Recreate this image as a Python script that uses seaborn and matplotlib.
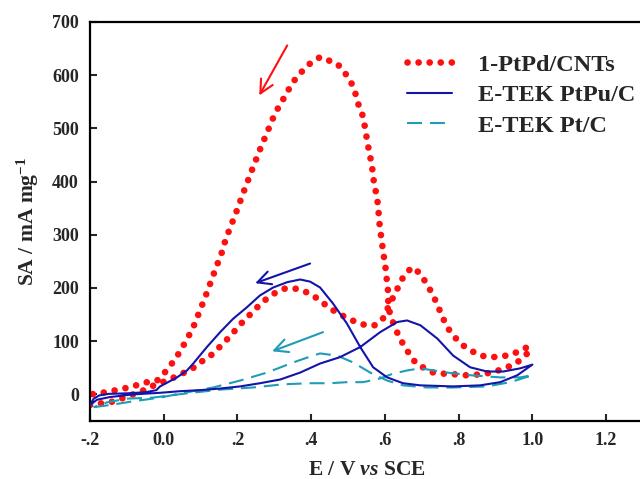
import numpy as np
import pandas as pd
import matplotlib
matplotlib.use("Agg")
import matplotlib.pyplot as plt
import seaborn as sns

# ---------------- data ----------------
pd_cnt_E = [-0.2, -0.173, -0.146, -0.119, -0.091, -0.064, -0.043, -0.024, 0.017, 0.039,
            0.063, 0.088, 0.107, 0.131, 0.15, 0.174, 0.196, 0.215, 0.24, 0.261,
            0.283, 0.305, 0.329, 0.356, 0.381, 0.405, 0.43, 0.451, 0.473, 0.5,
            0.524, 0.549, 0.573, 0.595, 0.609, 0.622, 0.636, 0.652, 0.674, 0.696,
            0.712, 0.728, 0.742, 0.755, 0.769, 0.79, 0.812, 0.837, 0.858, 0.888,
            0.915, 0.943, 0.97, 0.989,
            0.989, 0.97, 0.948, 0.921, 0.894, 0.866, 0.839, 0.812, 0.785, 0.758,
            0.731, 0.709, 0.687, 0.671, 0.655, 0.639, 0.625, 0.614, 0.609, 0.609,
            0.606, 0.603, 0.6, 0.595, 0.592, 0.587, 0.584, 0.582, 0.579, 0.573,
            0.568, 0.565, 0.56, 0.554, 0.549, 0.544, 0.538, 0.527, 0.519, 0.508,
            0.489, 0.47, 0.446, 0.424, 0.397, 0.375, 0.354, 0.337, 0.321, 0.305,
            0.291, 0.28, 0.267, 0.256, 0.245, 0.234, 0.223, 0.212, 0.202, 0.191,
            0.18, 0.169, 0.161, 0.15, 0.139, 0.128, 0.118, 0.107, 0.096, 0.085,
            0.071, 0.055, 0.039, 0.02, -0.002, -0.018, -0.04, -0.064, -0.091, -0.119,
            -0.146, -0.173, -0.2]
pd_cnt_SA = [-20, -17, -15, -9, -2, 5, 11, 18, 28, 36,
             43, 53, 64, 75, 88, 105, 122, 137, 154, 169,
             182, 192, 199, 199, 194, 186, 173, 162, 152, 143,
             135, 130, 130, 143, 164, 182, 201, 224, 239, 227,
             209, 190, 169, 147, 126, 107, 92, 81, 73, 70,
             71, 75, 83, 90,
             79, 66, 55, 49, 41, 39, 36, 36, 38, 39,
             41, 49, 56, 71, 88, 107, 130, 150, 171, 190,
             209, 229, 248, 267, 286, 310, 329, 350, 368, 389,
             408, 429, 447, 468, 489, 509, 528, 547, 568, 587,
             607, 622, 628, 634, 622, 607, 590, 571, 551, 532,
             511, 491, 471, 451, 432, 412, 392, 372, 352, 333,
             312, 295, 273, 253, 233, 212, 193, 173, 154, 134,
             114, 94, 75, 56, 37, 26, 24, 19, 14, 9,
             6, 2, 0]

ptpu_E = [-0.2, -0.19, -0.175, -0.15, -0.1, -0.05, -0.02, -0.01, 0.036, 0.063,
          0.08, 0.117, 0.153, 0.188, 0.226, 0.261, 0.297, 0.335, 0.37, 0.397,
          0.424, 0.459, 0.497, 0.533, 0.568, 0.606, 0.649, 0.696, 0.785, 0.858,
          0.913, 0.959, 1.0,
          0.967, 0.921, 0.877, 0.831, 0.785, 0.742, 0.696, 0.66, 0.633, 0.587,
          0.533, 0.478, 0.424, 0.37, 0.316, 0.261, 0.207, 0.153, 0.099, 0.044,
          -0.01, -0.083, -0.146, -0.181, -0.2]
ptpu_SA = [-20, -8, -2, 1, 2, 4, 8, 15, 32, 45,
           58, 89, 117, 142, 164, 186, 201, 211, 216, 212,
           201, 171, 133, 89, 51, 32, 21, 17, 15, 17,
           23, 36, 56,
           49, 43, 43, 51, 73, 105, 130, 139, 136, 117,
           89, 70, 58, 41, 28, 21, 15, 11, 8, 6,
           3, 0, -5, -10, -20]

ptc_E = [-0.19, -0.146, -0.083, -0.01, 0.063, 0.134, 0.207, 0.28, 0.351, 0.405,
         0.424, 0.47, 0.514, 0.56, 0.606, 0.649, 0.714, 0.785, 0.877, 0.94, 1.0,
         0.967, 0.913, 0.831, 0.769, 0.696, 0.66, 0.622, 0.587, 0.541, 0.497,
         0.451, 0.397, 0.324, 0.242, 0.153, 0.063, -0.029, -0.1, -0.154, -0.19]
ptc_SA = [-24, -20, -13, -6, 4, 13, 26, 41, 60, 73,
          77, 73, 60, 41, 26, 17, 13, 13, 15, 23, 36,
          32, 32, 36, 41, 49, 45, 39, 30, 23, 23,
          21, 21, 19, 13, 9, 2, -6, -8, -15, -24]

series_names = ["1-PtPd/CNTs", "E-TEK PtPu/C", "E-TEK Pt/C"]
x_ticks = [-0.2, 0.0, 0.2, 0.4, 0.6, 0.8, 1.0, 1.2]
x_tick_labels = ["-.2", "0.0", ".2", ".4", ".6", ".8", "1.0", "1.2"]
y_ticks = [0, 100, 200, 300, 400, 500, 600, 700]

# scan-direction arrows (tail -> head), data coordinates
arrow_red = [(0.335, 656), (0.259, 562)]
arrow_blue = [(0.397, 246), (0.248, 209)]
arrow_teal = [(0.432, 117), (0.294, 81)]

# ---------------- style ----------------
sns.set_theme(style="ticks")
plt.rcParams["font.family"] = ["Liberation Serif", "DejaVu Serif"]
plt.rcParams["font.weight"] = "bold"
plt.rcParams["mathtext.fontset"] = "custom"
plt.rcParams["mathtext.rm"] = "Liberation Serif:bold"
plt.rcParams["mathtext.it"] = "Liberation Serif:bold:italic"
plt.rcParams["mathtext.bf"] = "Liberation Serif:bold"

RED = "#ff1010"
BLUE = "#1414a8"
TEAL = "#1f9db5"

fig = plt.figure(figsize=(6.4, 4.79), dpi=100)
ax = fig.add_axes([90 / 640, 58 / 479, 553 / 640, 399 / 479])

df_red = pd.DataFrame({"E": pd_cnt_E, "SA": pd_cnt_SA})
df_blue = pd.DataFrame({"E": ptpu_E, "SA": ptpu_SA})
df_teal = pd.DataFrame({"E": ptc_E, "SA": ptc_SA})

sns.lineplot(data=df_red, x="E", y="SA", sort=False, estimator=None, ax=ax,
             color=RED, lw=4.8, linestyle=(0, (0.01, 1.65)),
             dash_capstyle="round", label=series_names[0], zorder=2)
sns.lineplot(data=df_blue, x="E", y="SA", sort=False, estimator=None, ax=ax,
             color=BLUE, lw=1.5, label=series_names[1], zorder=4)
sns.lineplot(data=df_teal, x="E", y="SA", sort=False, estimator=None, ax=ax,
             color=TEAL, lw=1.5, linestyle=(0, (7.2, 3.8)),
             label=series_names[2], zorder=3)

for (tail, head), col in [(arrow_red, RED), (arrow_blue, BLUE), (arrow_teal, TEAL)]:
    ax.annotate("", xy=head, xytext=tail,
                arrowprops=dict(arrowstyle="->", color=col, lw=1.5,
                                mutation_scale=24, shrinkA=0, shrinkB=0))

ax.set_xlim(-0.2, 1.3)
ax.set_ylim(-50, 700)
ax.set_xticks(x_ticks)
ax.set_xticklabels(x_tick_labels)
ax.set_yticks(y_ticks)
ax.tick_params(direction="in", length=5, width=1.5, labelsize=13, pad=8)
for lab in ax.get_xticklabels() + ax.get_yticklabels():
    lab.set_fontweight("bold")
for s in ax.spines.values():
    s.set_linewidth(1.6)
    s.set_color("black")

ax.set_xlabel(r"E / V $\mathit{vs}$ SCE", fontsize=15.5, fontweight="bold", labelpad=8)
ax.set_ylabel(r"SA / mA mg$^{\mathregular{-1}}$", fontsize=15.5, fontweight="bold", labelpad=8)

leg = ax.legend(loc="upper left", bbox_to_anchor=(0.555, 0.945), frameon=False,
                fontsize=17.5, handlelength=1.85, handletextpad=1.1,
                labelspacing=0.35, borderaxespad=0)
for t in leg.get_texts():
    t.set_fontweight("bold")

fig.savefig("out.png", dpi=100)
